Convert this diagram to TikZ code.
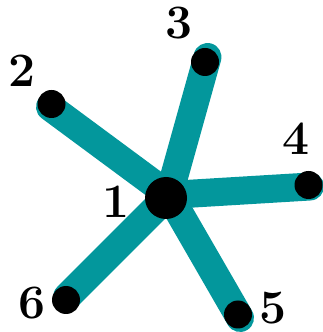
\documentclass[tikz,border=0pt]{standalone}
\usepackage{fontspec}
\definecolor{tealedge}{RGB}{3,151,156}
\begin{document}
\begin{tikzpicture}[x=1pt,y=1pt,
  edgeline/.style={draw=tealedge,line width=28pt,line cap=round},
  leaf/.style={circle,fill=black,inner sep=0pt,minimum size=28pt},
  hub/.style={circle,fill=black,inner sep=0pt,minimum size=42pt},
  lbl/.style={inner sep=0pt,font=\fontsize{48}{48}\selectfont\bfseries}]
\useasboundingbox (0,0) rectangle (323,332);
% edge end points
\coordinate (s) at (169,137);
\coordinate (t2) at (50,225);
\coordinate (t3) at (207.5,275);
\coordinate (t4) at (310,145.5);
\coordinate (t5) at (240,14);
\coordinate (t6) at (67,35);
\foreach \t in {t2,t3,t4,t5,t6}{\path[edgeline] (s) -- (\t);}
% vertices
\node[hub]  (c)  at (166,134) {};
\node[leaf] (n2) at (51.5,228) {};
\node[leaf] (n3) at (205,270) {};
\node[leaf] (n4) at (308.5,147) {};
\node[leaf] (n5) at (238,17.5) {};
\node[leaf] (n6) at (66,32) {};
% labels
\node[lbl] (l1) at (116,130.5) {1};
\node[lbl] (l2) at (22.5,261.5) {2};
\node[lbl] (l3) at (179.5,309) {3};
\node[lbl] (l4) at (296,193) {4};
\node[lbl] (l5) at (273,24) {5};
\node[lbl] (l6) at (32.5,28.5) {6};
\end{tikzpicture}
\end{document}
